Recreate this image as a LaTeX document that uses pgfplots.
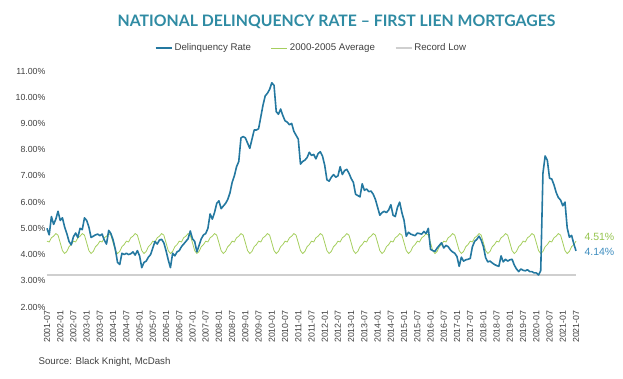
\documentclass[border=0pt]{standalone}
\usepackage{pgfplots}
\pgfplotsset{compat=1.18}
\usepackage{pgfplotstable}
\usepackage{fontspec}
\setmainfont{Liberation Sans}
\newfontfamily\titlefont{Lato}
\definecolor{delq}{HTML}{2478A0}
\definecolor{avg}{HTML}{A5CE5E}
\definecolor{rlow}{HTML}{CFCFCF}
\definecolor{ttl}{HTML}{2F8BA3}
\definecolor{txt}{HTML}{404040}
\definecolor{lblg}{HTML}{95C44E}
\definecolor{lblb}{HTML}{3E8DBF}

\pgfplotstableread{
m blue green low
0 5.00 4.51 3.22
1 4.75 4.48 3.22
2 5.45 4.64 3.22
3 5.15 4.70 3.22
4 5.35 4.80 3.22
5 5.65 4.74 3.22
6 5.30 4.45 3.22
7 5.40 4.15 3.22
8 5.05 4.04 3.22
9 4.80 4.12 3.22
10 4.50 4.30 3.22
11 4.37 4.38 3.22
12 4.68 4.51 3.22
13 4.82 4.48 3.22
14 4.65 4.64 3.22
15 5.00 4.70 3.22
16 4.95 4.80 3.22
17 5.40 4.74 3.22
18 5.30 4.45 3.22
19 5.05 4.15 3.22
20 4.65 4.04 3.22
21 4.70 4.12 3.22
22 4.75 4.30 3.22
23 4.78 4.38 3.22
24 4.72 4.51 3.22
25 4.78 4.48 3.22
26 4.55 4.64 3.22
27 4.40 4.70 3.22
28 4.92 4.80 3.22
29 4.80 4.74 3.22
30 4.55 4.45 3.22
31 4.20 4.15 3.22
32 3.70 4.04 3.22
33 3.62 4.12 3.22
34 4.05 4.30 3.22
35 4.00 4.38 3.22
36 4.05 4.51 3.22
37 4.00 4.48 3.22
38 4.03 4.64 3.22
39 4.10 4.70 3.22
40 3.98 4.80 3.22
41 4.15 4.74 3.22
42 3.95 4.45 3.22
43 3.50 4.15 3.22
44 3.70 4.04 3.22
45 3.75 4.12 3.22
46 3.90 4.30 3.22
47 4.00 4.38 3.22
48 4.25 4.51 3.22
49 4.50 4.48 3.22
50 4.40 4.64 3.22
51 4.55 4.70 3.22
52 4.58 4.80 3.22
53 4.45 4.74 3.22
54 4.15 4.45 3.22
55 3.80 4.15 3.22
56 3.50 4.04 3.22
57 4.05 4.12 3.22
58 3.95 4.30 3.22
59 4.10 4.38 3.22
60 4.15 4.51 3.22
61 4.30 4.48 3.22
62 4.40 4.64 3.22
63 4.50 4.70 3.22
64 4.60 4.80 3.22
65 4.90 4.74 3.22
66 4.60 4.45 3.22
67 4.50 4.15 3.22
68 4.10 4.04 3.22
69 4.35 4.12 3.22
70 4.60 4.30 3.22
71 4.75 4.38 3.22
72 4.80 4.51 3.22
73 5.00 4.48 3.22
74 5.55 4.64 3.22
75 5.35 4.70 3.22
76 5.60 4.80 3.22
77 5.95 4.74 3.22
78 6.05 4.45 3.22
79 5.75 4.15 3.22
80 5.85 4.04 3.22
81 5.95 4.12 3.22
82 6.10 4.30 3.22
83 6.35 4.38 3.22
84 6.75 4.51 3.22
85 7.00 4.48 3.22
86 7.35 4.64 3.22
87 7.55 4.70 3.22
88 8.45 4.80 3.22
89 8.50 4.74 3.22
90 8.45 4.45 3.22
91 8.25 4.15 3.22
92 8.05 4.04 3.22
93 8.40 4.12 3.22
94 8.75 4.30 3.22
95 8.75 4.38 3.22
96 8.80 4.51 3.22
97 9.25 4.48 3.22
98 9.70 4.64 3.22
99 10.05 4.70 3.22
100 10.15 4.80 3.22
101 10.30 4.74 3.22
102 10.55 4.45 3.22
103 10.45 4.15 3.22
104 9.45 4.04 3.22
105 9.35 4.12 3.22
106 9.55 4.30 3.22
107 9.30 4.38 3.22
108 9.10 4.51 3.22
109 9.05 4.48 3.22
110 8.95 4.64 3.22
111 9.00 4.70 3.22
112 8.70 4.80 3.22
113 8.55 4.74 3.22
114 8.40 4.45 3.22
115 7.45 4.15 3.22
116 7.55 4.04 3.22
117 7.60 4.12 3.22
118 7.70 4.30 3.22
119 7.90 4.38 3.22
120 7.78 4.51 3.22
121 7.82 4.48 3.22
122 7.65 4.64 3.22
123 7.85 4.70 3.22
124 7.92 4.80 3.22
125 7.75 4.74 3.22
126 7.40 4.45 3.22
127 6.85 4.15 3.22
128 6.80 4.04 3.22
129 6.95 4.12 3.22
130 7.05 4.30 3.22
131 6.95 4.38 3.22
132 7.00 4.51 3.22
133 7.35 4.48 3.22
134 7.05 4.64 3.22
135 7.20 4.70 3.22
136 7.25 4.80 3.22
137 7.10 4.74 3.22
138 6.90 4.45 3.22
139 6.75 4.15 3.22
140 6.30 4.04 3.22
141 6.25 4.12 3.22
142 6.20 4.30 3.22
143 6.70 4.38 3.22
144 6.45 4.51 3.22
145 6.50 4.48 3.22
146 6.40 4.64 3.22
147 6.42 4.70 3.22
148 6.30 4.80 3.22
149 6.10 4.74 3.22
150 5.80 4.45 3.22
151 5.50 4.15 3.22
152 5.60 4.04 3.22
153 5.65 4.12 3.22
154 5.60 4.30 3.22
155 5.70 4.38 3.22
156 5.90 4.51 3.22
157 5.50 4.48 3.22
158 5.45 4.64 3.22
159 5.80 4.70 3.22
160 6.00 4.80 3.22
161 5.60 4.74 3.22
162 5.30 4.45 3.22
163 4.70 4.15 3.22
164 4.85 4.04 3.22
165 4.78 4.12 3.22
166 4.75 4.30 3.22
167 4.72 4.38 3.22
168 4.82 4.51 3.22
169 4.80 4.48 3.22
170 4.78 4.64 3.22
171 4.88 4.70 3.22
172 4.80 4.80 3.22
173 5.00 4.74 3.22
174 4.20 4.45 3.22
175 4.15 4.15 3.22
176 4.12 4.04 3.22
177 4.25 4.12 3.22
178 4.35 4.30 3.22
179 4.45 4.38 3.22
180 4.25 4.51 3.22
181 4.35 4.48 3.22
182 4.30 4.64 3.22
183 4.18 4.70 3.22
184 4.10 4.80 3.22
185 4.05 4.74 3.22
186 3.92 4.45 3.22
187 3.55 4.15 3.22
188 3.90 4.04 3.22
189 3.75 4.12 3.22
190 3.80 4.30 3.22
191 3.82 4.38 3.22
192 3.85 4.51 3.22
193 4.30 4.48 3.22
194 4.50 4.64 3.22
195 4.58 4.70 3.22
196 4.70 4.80 3.22
197 4.55 4.74 3.22
198 4.30 4.45 3.22
199 3.88 4.15 3.22
200 3.72 4.04 3.22
201 3.75 4.12 3.22
202 3.68 4.30 3.22
203 3.62 4.38 3.22
204 3.58 4.51 3.22
205 3.55 4.48 3.22
206 3.95 4.64 3.22
207 3.72 4.70 3.22
208 3.82 4.80 3.22
209 3.75 4.74 3.22
210 3.80 4.45 3.22
211 3.82 4.15 3.22
212 3.60 4.04 3.22
213 3.45 4.12 3.22
214 3.35 4.30 3.22
215 3.45 4.38 3.22
216 3.40 4.51 3.22
217 3.38 4.48 3.22
218 3.42 4.64 3.22
219 3.35 4.70 3.22
220 3.35 4.80 3.22
221 3.30 4.74 3.22
222 3.30 4.45 3.22
223 3.22 4.15 3.22
224 3.39 4.04 3.22
225 7.10 4.12 3.22
226 7.76 4.30 3.22
227 7.59 4.38 3.22
228 6.91 4.51 3.22
229 6.88 4.48 3.22
230 6.66 4.64 3.22
231 6.37 4.70 3.22
232 6.17 4.80 3.22
233 6.08 4.74 3.22
234 5.86 4.45 3.22
235 6.00 4.15 3.22
236 5.02 4.04 3.22
237 4.66 4.12 3.22
238 4.73 4.30 3.22
239 4.41 4.38 3.22
240 4.14 4.51 3.22
}\datatable

\begin{document}
\begin{tikzpicture}[x=1pt,y=1pt]
\path[use as bounding box] (0,0) rectangle (623,379);
\node[font=\titlefont\bfseries\fontsize{15.8}{18}\selectfont, text=ttl] at (336.5,357) {NATIONAL DELINQUENCY RATE – FIRST LIEN MORTGAGES};
\begin{axis}[
  at={(47pt,72pt)}, anchor=south west,
  scale only axis, width=529pt, height=236pt,
  xmin=0, xmax=240, ymin=2, ymax=11,
  axis line style={draw=none},
  major tick length=0pt,
  /pgf/number format/assume math mode=true,
  xtick={0,6,...,240},
  xticklabels={2001-07,2002-01,2002-07,2003-01,2003-07,2004-01,2004-07,2005-01,2005-07,2006-01,2006-07,2007-01,2007-07,2008-01,2008-07,2009-01,2009-07,2010-01,2010-07,2011-01,2011-07,2012-01,2012-07,2013-01,2013-07,2014-01,2014-07,2015-01,2015-07,2016-01,2016-07,2017-01,2017-07,2018-01,2018-07,2019-01,2019-07,2020-01,2020-07,2021-01,2021-07},
  x tick label style={rotate=90, anchor=east, font=\fontsize{8.8}{10}\selectfont, text=txt},
  ytick={2,3,...,11},
  yticklabel={\pgfmathprintnumber[fixed,fixed zerofill,precision=2]{\tick}\%},
  y tick label style={font=\fontsize{8.8}{10}\selectfont, text=txt, xshift=2pt},
  reverse legend,
  legend columns=3,
  legend style={at={(0.5,1)}, anchor=center, yshift=23pt, draw=none, fill=none,
    font=\fontsize{9.7}{11}\selectfont, text=txt,
    /tikz/every even column/.append style={column sep=18pt}},
  legend image code/.code={\draw[#1] (0pt,0pt) -- (16pt,0pt);},
  clip=false,
]
\addplot[rlow, line width=1.4pt] table[x=m, y=low] {\datatable};
\addlegendentry{Record Low}
\addplot[avg, line width=0.8pt] table[x=m, y=green] {\datatable};
\addlegendentry{2000-2005 Average}
\addplot[delq, line width=1.6pt, line join=round] table[x=m, y=blue] {\datatable};
\addlegendentry{Delinquency Rate}
\node[anchor=west, text=lblg, font=\fontsize{10.5}{12}\selectfont] at (axis cs:240,4.67) {\hspace{5pt}4.51\%};
\node[anchor=west, text=lblb, font=\fontsize{10.5}{12}\selectfont] at (axis cs:240,4.10) {\hspace{5pt}4.14\%};
\end{axis}
\node[anchor=west, font=\fontsize{9.7}{11}\selectfont, text=txt] at (35,17) {Source: Black Knight, McDash};
\end{tikzpicture}
\end{document}
